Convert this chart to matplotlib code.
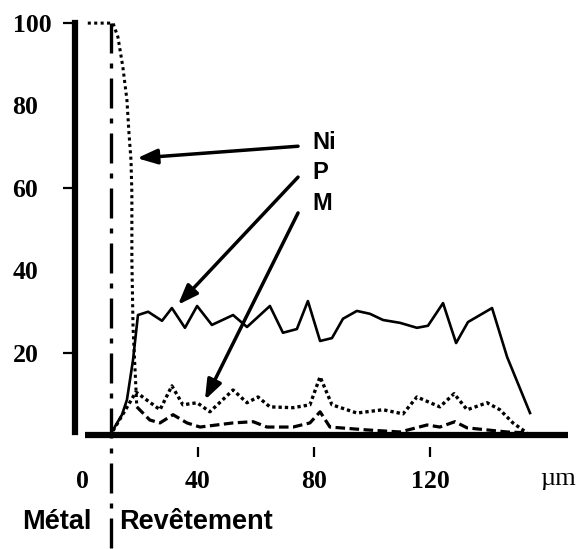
"""
Profil de concentration Ni / P / M à travers le revêtement
"""

import matplotlib

matplotlib.use("Agg")
import matplotlib.pyplot as plt

plt.rcParams["font.family"] = ["Liberation Serif", "DejaVu Serif"]

# profondeur (µm) et teneurs (%)
ni_x = [2.0, 10.7, 12.4, 14.1, 15.5, 16.2, 16.9, 17.2, 17.2, 17.6, 18.3, 18.9]
ni_y = [100, 100, 96.6, 89.3, 81.3, 73.3, 66.7, 58.7, 42.5, 26.2, 15.8, 6.8]

p_x = [10.7, 13.8, 15.5, 17.6, 19.3, 22.8, 27.6, 31.0, 35.5, 39.7, 44.8, 52.1,
       56.9, 64.8, 69.3, 74.1, 77.9, 82.1, 86.2, 90.0, 94.8, 99.3, 103.8, 109.7,
       115.5, 119.3, 124.5, 129.0, 133.1, 141.4, 146.6, 154.5]
p_y = [1.2, 4.9, 8.5, 18.2, 29.1, 29.9, 27.7, 30.8, 26.0, 31.3, 26.7, 29.1,
       26.2, 31.3, 24.8, 25.7, 32.5, 22.8, 23.5, 28.2, 30.1, 29.4, 27.9, 27.2,
       26.0, 26.5, 32.0, 22.3, 27.4, 30.8, 18.9, 5.3]

m_x = [10.7, 14.5, 18.6, 26.9, 31.0, 34.8, 39.7, 44.1, 52.1, 56.9, 60.7, 64.8,
       72.8, 78.6, 82.1, 86.2, 94.8, 103.8, 110.7, 115.5, 123.4, 128.3, 132.8,
       139.7, 144.1, 148.6, 153.4]
m_y = [1.0, 5.5, 10.4, 6.1, 11.9, 7.3, 7.8, 5.6, 10.9, 7.8, 9.2, 6.8,
       6.6, 7.3, 14.1, 7.3, 5.3, 6.1, 5.1, 9.2, 6.8, 10.0, 6.1,
       7.8, 6.1, 2.9, 0.5]

d_x = [18.9, 23.4, 26.9, 31.4, 36.2, 40.7, 52.1, 59.0, 63.8, 72.8, 78.6, 82.1,
       85.5, 98.3, 109.7, 119.0, 123.4, 128.6, 132.8, 146.6, 153.4]
d_y = [6.8, 3.6, 2.9, 4.9, 2.9, 1.9, 2.9, 3.2, 1.9, 1.9, 2.9, 5.6,
       1.9, 1.2, 0.7, 2.4, 1.9, 3.2, 1.7, 0.7, 0.5]

interface_x = 10.0
x_ticks = [0, 40, 80, 120]
y_ticks = [20, 40, 60, 80, 100]

# étiquettes des flèches: texte, y du texte, départ y, pointe x, pointe y
labels = ["Ni", "P", "M"]
label_y = [71.1, 63.6, 56.3]
tail_y = [70.1, 62.6, 53.9]
tip_x = [19.0, 33.1, 42.4]
tip_y = [67.2, 31.6, 8.5]

sans = ["Liberation Sans", "DejaVu Sans"]

fig = plt.figure(figsize=(5.78, 5.49), dpi=100)
ax = fig.add_axes([0.1298, 0.2004, 0.865, 0.765])

ax.plot(ni_x, ni_y, color="black", lw=2.2, linestyle=(0, (1, 1.1)))
ax.plot(p_x, p_y, color="black", lw=1.9)
ax.plot(m_x, m_y, color="black", lw=2.4, linestyle=(0, (1, 0.9)))
ax.plot(d_x, d_y, color="black", lw=2.3, linestyle=(0, (3, 1.4)))

# ligne de base et interface métal / revêtement
ax.plot([1, 167.6], [0, 0], color="black", lw=4.5, solid_capstyle="butt",
        clip_on=False, zorder=3)
ax.plot([interface_x, interface_x], [100, -27.5], color="black", lw=2.4,
        linestyle=(0, (9, 3, 1.5, 3)), clip_on=False)

for lab, ly, ty, px, py in zip(labels, label_y, tail_y, tip_x, tip_y):
    ax.text(79.3, ly, lab, ha="left", va="center", fontsize=17,
            fontweight="bold", family=sans)
    ax.annotate("", xy=(px, py), xytext=(74.5, ty),
                arrowprops=dict(arrowstyle="-|>,head_length=1.2,head_width=0.45",
                                color="black", lw=2.5, shrinkA=0, shrinkB=0))

ax.set_xlim(-2.4, 170)
ax.set_ylim(-1, 101)

for side in ["top", "right"]:
    ax.spines[side].set_visible(False)
ax.spines["left"].set_linewidth(4.5)
ax.spines["left"].set_bounds(0.8, 100)
ax.spines["bottom"].set_position(("outward", 5.8))
ax.spines["bottom"].set_visible(False)

ax.set_xticks(x_ticks)
ax.set_xticklabels([str(v) for v in x_ticks], fontsize=18.5, fontweight="bold")
ax.tick_params(axis="x", direction="out", length=7.2, width=1.6, pad=9)
ax.xaxis.get_major_ticks()[0].tick1line.set_visible(False)

ax.set_yticks(y_ticks)
ax.set_yticklabels([str(v) for v in y_ticks], fontsize=18.5, fontweight="bold")
ax.tick_params(axis="y", direction="out", length=9, width=1.6, pad=36)
for lbl in ax.get_yticklabels():
    lbl.set_horizontalalignment("left")
for i in [1, 3]:
    ax.yaxis.get_major_ticks()[i].tick1line.set_visible(False)

ax.text(164, -10.8, "µm", ha="center", va="center", fontsize=19,
        clip_on=False)
ax.text(3.4, -21.1, "Métal", ha="right", va="center", fontsize=19.5,
        fontweight="bold", family=sans)
ax.text(12.8, -21.1, "Revêtement", ha="left", va="center", fontsize=19.5,
        fontweight="bold", family=sans)

plt.savefig("out.png", dpi=100)
plt.close()
